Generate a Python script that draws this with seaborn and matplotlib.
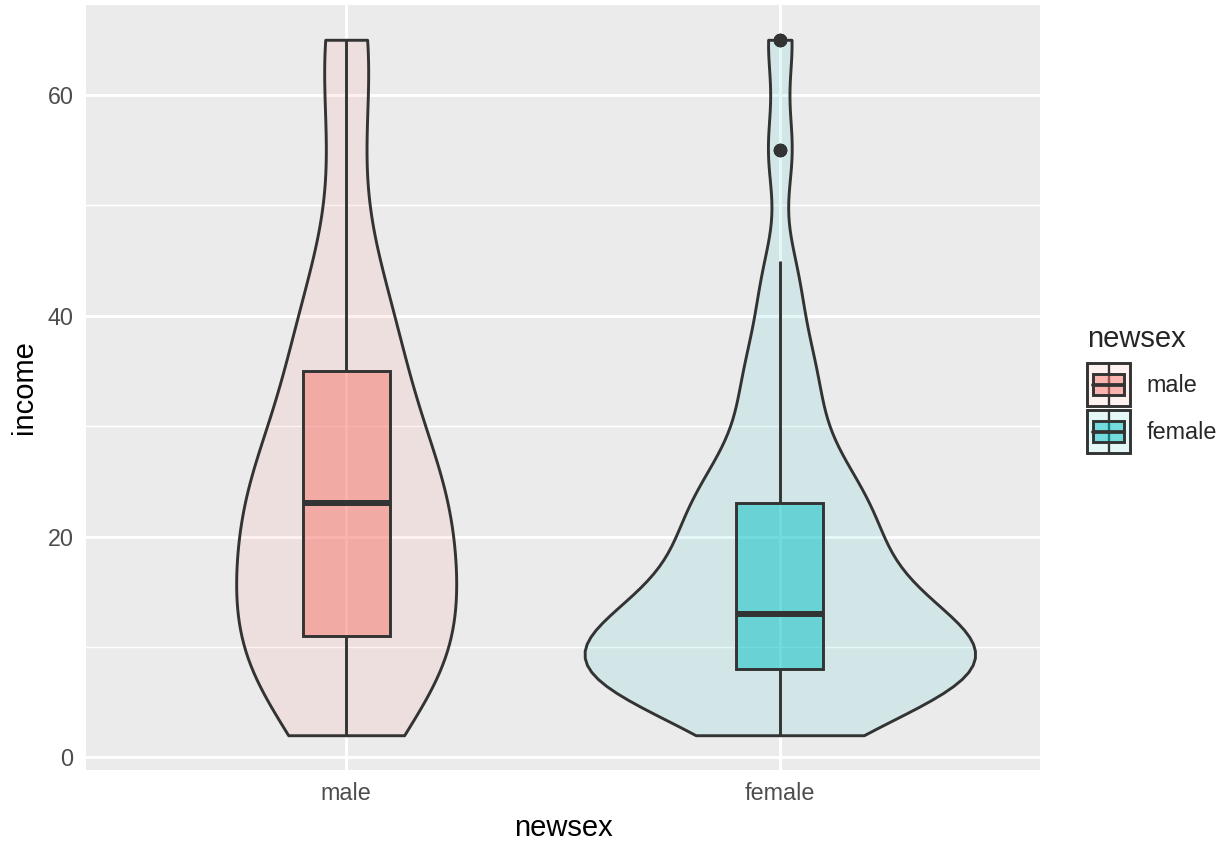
import numpy as np
import pandas as pd
import matplotlib
matplotlib.use('Agg')
import matplotlib.pyplot as plt
import seaborn as sns
from matplotlib.colors import to_rgba
from matplotlib.patches import Rectangle, Patch
from matplotlib.lines import Line2D
from matplotlib.legend_handler import HandlerBase

# incomes
male_income = [2, 4, 6, 7, 9, 10, 10, 11, 13, 14, 15, 17, 19, 21, 23, 23,
               24, 24, 26, 28, 30, 35, 36, 38, 41, 45, 55, 65, 65]
female_values = [2, 3, 4, 5, 6, 7, 8, 9, 10, 11, 12, 13, 14, 15, 16, 17, 18,
                 19, 20, 21, 22, 23, 24, 25, 26, 27, 28, 29, 30, 31, 32, 33,
                 34, 35, 36, 37, 38, 39, 40, 42, 43, 44, 45, 55, 65]
female_counts = [4, 5, 6, 7, 8, 11, 13, 13, 11, 10, 8, 8, 6, 6, 5, 5, 4,
                 4, 5, 5, 5, 6, 3, 4, 3, 3, 3, 1, 2, 1, 2, 2,
                 2, 3, 2, 1, 1, 1, 1, 1, 2, 2, 1, 5, 5]
groups = ['male', 'female']
colors = {'male': '#F8766D', 'female': '#00BFC4'}
y_ticks = [0, 20, 40, 60]

female_income = np.repeat(female_values, female_counts)
df = pd.DataFrame({
    'newsex': ['male'] * len(male_income) + ['female'] * len(female_income),
    'income': list(male_income) + list(female_income),
})

sns.set_style('darkgrid')
plt.rcParams['font.family'] = ['Liberation Sans', 'DejaVu Sans']

dark = '#333333'
lw = 2.1

fig = plt.figure(figsize=(12.25, 8.41), dpi=100)
ax = fig.add_axes([86 / 1225, 1 - 770 / 841, (1040 - 86) / 1225, (770 - 5) / 841])
ax.set_facecolor('#EBEBEB')

# no hue here, so "area" scaling is shared by both violins
sns.violinplot(data=df, x='newsex', y='income', order=groups, color='#cccccc',
               cut=0, inner=None, density_norm='area', width=0.9,
               bw_adjust=0.8, linewidth=lw, linecolor=dark, saturation=1,
               ax=ax)
for coll, g in zip(ax.collections, groups):
    coll.set_facecolor(to_rgba(colors[g], 0.1))
    coll.set_edgecolor(dark)

n_patches = len(ax.patches)
sns.boxplot(data=df, x='newsex', y='income', order=groups, color='#cccccc',
            width=0.2, linewidth=lw, linecolor=dark, saturation=1,
            showcaps=False,
            medianprops={'linewidth': 4.3, 'color': dark},
            flierprops={'marker': 'o', 'markersize': 8.6,
                        'markerfacecolor': dark, 'markeredgecolor': dark},
            ax=ax)
for p, g in zip(ax.patches[n_patches:], groups):
    p.set_facecolor(to_rgba(colors[g], 0.5))
    p.set_edgecolor(dark)

ax.set_xlim(-0.6, 1.6)
ax.set_ylim(-1.15, 68.15)
ax.set_yticks(y_ticks)
ax.set_yticklabels([str(t) for t in y_ticks])
ax.set_yticks([10, 30, 50], minor=True)
ax.grid(False)
ax.grid(which='major', color='white', linewidth=2.1)
ax.grid(which='minor', axis='y', color='white', linewidth=1.05)
ax.set_axisbelow(True)
for s in ax.spines.values():
    s.set_visible(False)
ax.tick_params(which='major', length=5, width=1.6, color=dark,
               labelsize=16.8, labelcolor='#4D4D4D', pad=4)
ax.tick_params(which='minor', length=0)
ax.set_xlabel('newsex', fontsize=21, color='black', labelpad=6)
ax.set_ylabel('income', fontsize=21, color='black', labelpad=7)


class ViolinBoxKey(HandlerBase):
    def __init__(self, color):
        super().__init__()
        self.color = color

    def create_artists(self, legend, orig_handle, xdescent, ydescent,
                       width, height, fontsize, trans):
        x0, y0 = -xdescent, -ydescent
        cx = x0 + width / 2
        outer = Rectangle((x0, y0), width, height,
                          facecolor=to_rgba(self.color, 0.1),
                          edgecolor=dark, linewidth=lw, transform=trans)
        whisk = Line2D([cx, cx], [y0, y0 + height], color=dark,
                       linewidth=lw * 0.8, transform=trans)
        box = Rectangle((x0 + 0.14 * width, y0 + 0.25 * height),
                        0.72 * width, 0.5 * height,
                        facecolor=to_rgba(self.color, 0.5),
                        edgecolor=dark, linewidth=lw, transform=trans)
        med = Line2D([x0 + 0.14 * width, x0 + 0.86 * width],
                     [y0 + height / 2, y0 + height / 2], color=dark,
                     linewidth=lw * 1.3, transform=trans)
        return [outer, whisk, box, med]


handles = [Patch(label=g) for g in groups]
hmap = {h: ViolinBoxKey(colors[g]) for h, g in zip(handles, groups)}
leg = fig.legend(handles=handles, labels=groups, handler_map=hmap,
                 loc='upper left', bbox_to_anchor=(1087 / 1225, 1 - 325 / 841),
                 frameon=False, title='newsex', title_fontsize=21,
                 fontsize=16.8, handlelength=1.85, handleheight=2.46,
                 handletextpad=0.69, labelspacing=0.17, borderpad=0,
                 borderaxespad=0, alignment='left')
leg._legend_box.sep = 7.2  # a bit more room under the title

fig.savefig('out.png', dpi=100)
